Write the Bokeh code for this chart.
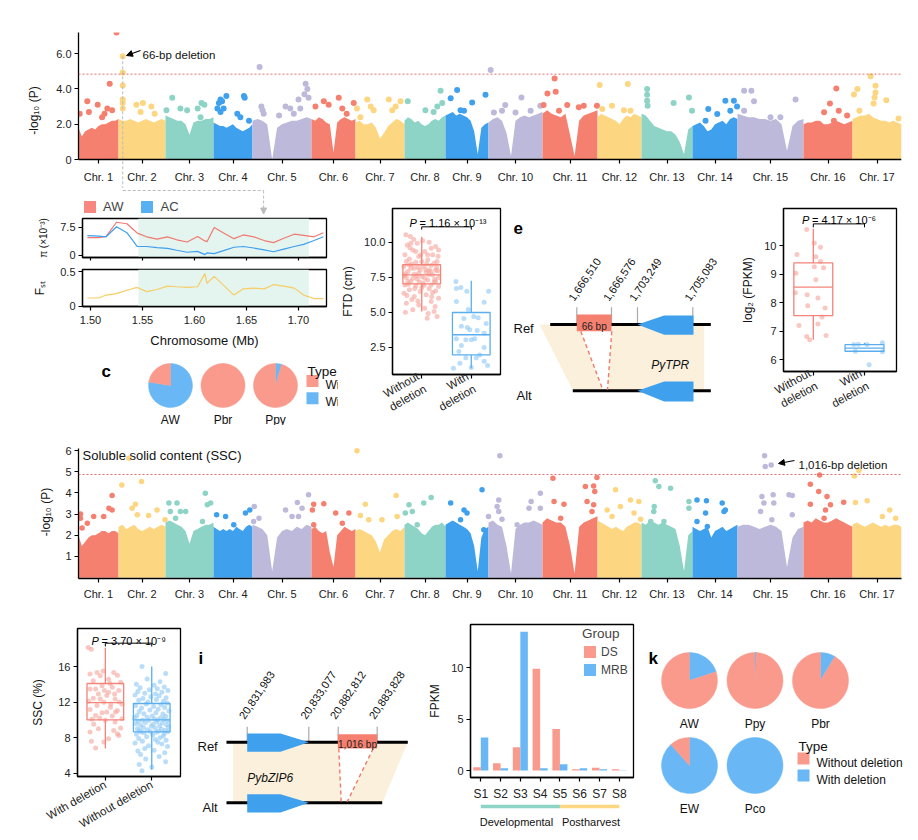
import numpy as np
from math import pi, sin, cos
from bokeh.plotting import figure
from bokeh.layouts import row, column
from bokeh.models import (Range1d, FixedTicker, Label, Arrow, NormalHead, Span,
                          Legend, LegendItem, BoxAnnotation, ColumnDataSource)
from bokeh.embed import file_html
from bokeh.resources import INLINE
from bokeh.transform import dodge

FONT = "Liberation Sans"
RED, YEL, TEAL, BLUE, LAV = "#F5806F", "#FDD681", "#8DD3C6", "#3FA1EE", "#BDB9DA"
PINK_PIE, BLUE_PIE = "#F99A8C", "#69B8F5"
BOX_RED, BOX_BLUE = "#F4837A", "#5AAEEF"
PT_RED, PT_BLUE = "#F7A49A", "#8CC8F5"
BEIGE = "#FBF0DB"

# ---------------- Manhattan data (a, g) ----------------
chr_names = ["Chr. %d" % i for i in range(1, 18)]
chr_len = [24.0, 28.2, 28.8, 23.4, 35.4, 26.4, 29.4, 24.6, 25.8, 32.4, 33.0,
           26.4, 30.6, 27.0, 39.6, 29.4, 29.4]
chr_colors = [RED, YEL, TEAL, BLUE, LAV] * 3 + [RED, YEL]
env_frac = [i / 12 for i in range(13)]
a_env = [
    [1.8, 1.3, 1.6, 1.7, 1.8, 1.7, 1.9, 2.0, 2.0, 2.1, 2.2, 2.2, 2.3],
    [2.3, 2.2, 2.2, 2.3, 2.2, 2.1, 2.2, 2.3, 2.2, 2.1, 2.2, 2.3, 2.2],
    [2.5, 2.4, 2.3, 2.2, 2.2, 2.0, 1.4, 2.1, 2.2, 2.2, 2.3, 2.3, 2.4],
    [2.1, 2.0, 1.9, 1.9, 1.8, 1.9, 2.0, 1.8, 1.7, 1.6, 1.7, 1.8, 2.0],
    [2.2, 2.3, 2.2, 2.0, 0.0, 1.8, 2.0, 2.1, 2.2, 2.2, 2.3, 2.4, 2.3],
    [2.3, 2.2, 2.4, 2.3, 2.1, 2.0, 0.4, 2.1, 2.3, 2.4, 2.3, 2.2, 2.3],
    [2.1, 2.2, 2.0, 2.0, 2.1, 1.8, 1.2, 1.5, 1.9, 2.1, 2.3, 2.2, 2.0],
    [2.2, 2.4, 2.3, 2.1, 2.2, 2.0, 1.9, 2.0, 2.2, 2.3, 2.2, 2.4, 2.5],
    [2.5, 2.6, 2.7, 2.5, 2.6, 2.5, 2.4, 2.2, 1.6, 0.3, 1.8, 2.0, 2.1],
    [2.1, 2.3, 2.4, 2.2, 1.5, 0.2, 2.2, 2.4, 2.5, 2.4, 2.5, 2.6, 2.7],
    [2.6, 2.8, 2.6, 2.5, 2.4, 2.6, 1.4, 0.2, 2.2, 2.5, 2.6, 2.7, 2.8],
    [2.4, 2.6, 2.5, 2.4, 2.3, 2.2, 2.0, 2.3, 2.5, 2.4, 2.6, 2.5, 2.4],
    [2.6, 2.5, 2.2, 1.9, 1.8, 1.7, 1.6, 1.6, 1.4, 1.0, 0.3, 1.7, 1.9],
    [1.9, 2.0, 2.1, 1.9, 1.6, 1.7, 2.0, 2.1, 2.2, 2.0, 2.3, 2.4, 2.3],
    [2.6, 2.5, 2.4, 2.4, 2.3, 2.3, 2.2, 2.3, 2.0, 0.5, 1.9, 2.2, 2.3],
    [2.0, 2.1, 2.1, 2.2, 2.2, 2.0, 2.0, 2.1, 2.2, 2.1, 2.0, 2.1, 2.2],
    [2.3, 2.4, 2.5, 2.5, 2.6, 2.4, 2.3, 2.2, 2.2, 2.1, 2.2, 2.1, 2.0],
]
g_env = [
    [2.0, 1.5, 1.7, 1.9, 2.0, 2.0, 2.1, 2.2, 2.2, 2.1, 2.2, 2.2, 2.1],
    [2.4, 2.5, 2.3, 2.4, 2.5, 2.3, 2.2, 2.3, 2.4, 2.3, 2.4, 2.5, 2.4],
    [2.6, 2.7, 2.6, 2.5, 2.4, 2.2, 1.6, 2.2, 2.3, 2.4, 2.5, 2.5, 2.6],
    [2.4, 2.3, 2.2, 2.3, 2.2, 2.3, 2.2, 2.4, 2.3, 2.2, 2.4, 2.5, 2.4],
    [2.5, 2.4, 2.3, 2.0, 0.3, 1.9, 2.2, 2.3, 2.2, 2.4, 2.3, 2.5, 2.4],
    [2.3, 2.4, 2.2, 2.1, 2.2, 1.2, 0.5, 2.0, 2.2, 2.4, 2.3, 2.2, 2.3],
    [2.2, 2.3, 2.2, 2.1, 2.0, 1.7, 1.2, 1.8, 2.0, 2.2, 2.3, 2.2, 2.4],
    [2.5, 2.6, 2.5, 2.4, 2.3, 2.1, 2.0, 2.2, 2.4, 2.5, 2.5, 2.6, 2.4],
    [2.5, 2.6, 2.7, 2.6, 2.5, 2.4, 2.3, 2.1, 1.5, 0.3, 1.9, 2.3, 2.4],
    [2.6, 2.7, 2.5, 2.4, 1.5, 0.2, 2.3, 2.5, 2.6, 2.6, 2.7, 2.6, 2.5],
    [2.6, 2.8, 2.7, 2.6, 2.6, 2.4, 1.5, 0.2, 2.4, 2.6, 2.7, 2.8, 2.9],
    [2.7, 2.6, 2.5, 2.4, 2.3, 2.4, 2.3, 2.2, 2.4, 2.5, 2.6, 2.6, 2.5],
    [2.6, 2.5, 2.7, 2.6, 2.5, 2.6, 2.5, 2.4, 2.3, 1.5, 0.3, 2.0, 2.2],
    [2.4, 2.3, 2.2, 2.3, 2.4, 1.9, 2.2, 2.3, 2.4, 2.2, 2.3, 2.4, 2.5],
    [2.4, 2.5, 2.5, 2.4, 2.3, 2.4, 2.5, 2.4, 2.2, 0.5, 1.9, 2.3, 2.4],
    [2.6, 2.7, 2.6, 2.8, 2.7, 2.6, 2.6, 2.7, 2.8, 2.7, 2.6, 2.5, 2.4],
    [2.5, 2.6, 2.5, 2.4, 2.5, 2.6, 2.5, 2.4, 2.5, 2.4, 2.5, 2.5, 2.4],
]
# (chromosome, relative position, -log10 P)
a_hits = [
    (1,.03,2.6),(1,.22,3.3),(1,.26,2.7),(1,.48,3.1),(1,.59,2.4),(1,.65,2.6),(1,.72,2.9),(1,.78,4.3),(1,.84,2.8),(1,.95,7.2),
    (2,.09,5.85),(2,.09,4.93),(2,.09,4.2),(2,.09,3.4),(2,.09,3.2),(2,.09,2.9),(2,.38,3.1),(2,.47,2.7),(2,.52,3.2),(2,.70,3.0),(2,.77,2.6),
    (3,.02,2.8),(3,.14,3.5),(3,.31,2.9),(3,.45,2.8),(3,.67,2.9),(3,.73,2.4),(3,.75,3.2),(3,.81,3.1),
    (4,.10,2.9),(4,.14,3.2),(4,.18,3.4),(4,.18,2.7),(4,.22,3.3),(4,.26,2.9),(4,.33,3.6),(4,.61,2.6),(4,.69,2.4),(4,.78,3.6),(4,.80,3.5),(4,.91,2.2),
    (5,.12,5.25),(5,.15,3.0),(5,.17,2.8),(5,.19,2.6),(5,.45,2.5),(5,.56,3.0),(5,.64,2.9),(5,.70,2.6),(5,.78,3.4),(5,.81,2.9),(5,.88,3.7),(5,.90,4.3),(5,.93,4.0),(5,.95,3.5),
    (6,.09,3.0),(6,.28,3.3),(6,.39,3.1),(6,.62,3.5),(6,.70,2.9),(6,.80,2.6),(6,.96,3.2),
    (7,.03,2.9),(7,.10,2.4),(7,.24,3.4),(7,.31,3.0),(7,.37,2.8),(7,.68,3.4),(7,.75,2.8),(7,.82,3.0),(7,.92,3.3),
    (8,.08,3.3),(8,.51,2.8),(8,.71,2.7),(8,.80,3.0),(8,.88,3.9),(8,.92,3.2),
    (9,.12,3.47),(9,.27,3.94),(9,.35,2.8),(9,.43,2.76),(9,.62,3.24),(9,.93,3.67),
    (10,.04,5.08),(10,.10,2.67),(10,.25,2.77),(10,.31,3.09),(10,.5,2.67),(10,.61,3.52),(10,.78,2.77),(10,.96,3.05),
    (11,.02,3.09),(11,.09,3.75),(11,.22,4.6),(11,.24,3.84),(11,.30,2.77),(11,.45,3.09),(11,.66,2.96),(11,.75,3.05),(11,.99,3.05),
    (12,.05,4.22),(12,.11,2.86),(12,.33,3.05),(12,.60,2.8),(12,.69,4.28),(12,.75,2.77),
    (13,.11,4.0),(13,.11,3.67),(13,.11,3.33),(13,.12,3.05),(13,.63,3.2),(13,.93,3.52),(13,.99,2.77),
    (14,.29,2.2),(14,.35,2.86),(14,.55,2.58),(14,.73,3.33),(14,.84,2.77),(14,.92,3.33),(14,.99,3.0),
    (15,.10,3.9),(15,.10,2.77),(15,.21,3.9),(15,.25,3.3),(15,.5,2.4),(15,.65,2.4),(15,.88,3.41),
    (16,.42,2.68),(16,.54,3.18),(16,.62,2.2),(16,.67,4.03),(16,.72,2.77),(16,.89,2.5),
    (17,.03,3.68),(17,.10,4.0),(17,.14,2.77),(17,.37,4.72),(17,.43,3.18),(17,.45,3.52),(17,.47,4.18),(17,.47,3.8),(17,.69,3.36),(17,.94,2.33),
]
g_hits = [
    (1,.05,3.0),(1,.05,2.8),(1,.09,2.34),(1,.22,2.57),(1,.38,2.89),(1,.63,2.89),(1,.76,3.28),(1,.84,3.88),(1,.84,3.2),
    (2,.07,4.38),(2,.22,5.64),(2,.29,3.28),(2,.36,3.47),(2,.40,2.97),(2,.49,4.54),(2,.64,2.93),(2,.82,3.2),(2,.99,2.73),
    (3,.07,3.52),(3,.10,3.12),(3,.21,2.81),(3,.24,3.52),(3,.31,3.12),(3,.42,3.12),(3,.77,2.65),(3,.83,3.99),(3,.87,3.44),(3,.94,3.52),
    (4,.08,2.97),(4,.31,2.89),(4,.52,2.5),(4,.82,3.05),(4,.93,3.2),
    (5,.02,2.65),(5,.03,3.36),(5,.11,2.81),(5,.56,3.2),(5,.67,2.89),(5,.76,3.55),(5,.78,2.89),(5,.84,3.28),(5,.95,3.91),
    (6,.02,3.2),(6,.05,3.47),(6,.05,2.5),(6,.28,3.49),(6,.55,3.05),(6,.70,2.57),(6,.85,3.05),
    (7,.03,5.99),(7,.10,2.93),(7,.20,3.47),(7,.27,2.73),(7,.54,2.73),(7,.83,3.88),(7,.85,2.89),
    (8,.02,3.05),(8,.11,3.44),(8,.19,3.12),(8,.31,2.5),(8,.47,3.52),(8,.65,3.78),
    (9,.12,3.52),(9,.35,2.73),(9,.43,3.2),(9,.50,3.05),(9,.85,4.15),(9,.89,2.26),
    (10,.0,2.89),(10,.16,3.36),(10,.19,3.67),(10,.19,3.12),(10,.21,5.76),(10,.25,2.76),(10,.53,2.5),(10,.75,3.28),(10,.79,3.6),(10,.96,3.99),(10,.96,3.28),
    (11,.19,4.69),(11,.21,3.6),(11,.33,2.81),(11,.39,3.47),(11,.78,4.3),(11,.81,3.6),(11,.90,3.12),(11,.93,4.33),(11,.93,3.44),(11,.95,4.07),(11,.99,4.73),
    (12,.22,3.2),(12,.33,2.89),(12,.41,4.15),(12,.52,3.36),(12,.75,3.67),(12,.83,3.05),(12,.94,3.6),(12,.98,2.76),
    (13,.18,2.65),(13,.24,3.12),(13,.25,3.36),(13,.27,4.58),(13,.34,4.3),(13,.44,2.65),(13,.57,4.22),(13,.93,3.6),(13,.93,3.28),
    (14,.10,3.67),(14,.10,2.65),(14,.29,3.05),(14,.31,3.63),(14,.33,2.42),(14,.66,3.52),(14,.70,3.12),(14,.73,3.2),
    (15,.35,3.12),(15,.37,3.83),(15,.40,3.52),(15,.41,5.76),(15,.42,5.25),(15,.51,5.32),(15,.52,2.73),(15,.54,3.91),(15,.55,3.52),(15,.78,3.91),(15,.83,3.88),(15,.83,2.97),
    (16,.14,4.41),(16,.14,3.47),(16,.31,4.07),(16,.33,4.85),(16,.42,2.81),(16,.45,3.2),(16,.48,3.83),(16,.55,3.44),(16,.82,3.56),
    (17,.04,4.8),(17,.06,3.55),(17,.13,5.06),(17,.30,3.63),(17,.61,2.89),(17,.76,3.2),(17,.88,2.81),
]
a_threshold = 4.84
g_threshold = 4.87

# ---------------- b: diversity / Fst ----------------
b_pos = [1.497, 1.508, 1.515, 1.525, 1.535, 1.545, 1.554, 1.564, 1.574, 1.583, 1.593, 1.603, 1.610,
         1.612, 1.619, 1.628, 1.638, 1.647, 1.657, 1.667, 1.676, 1.686, 1.696, 1.705, 1.715, 1.724]
b_pi_aw = [4.78, 4.78, 5.1, 8.9, 8.5, 6.0, 5.0, 4.4, 5.0, 4.2, 3.6, 5.1, 3.9,
           3.7, 7.5, 6.0, 4.5, 5.5, 5.0, 4.0, 3.45, 4.6, 5.7, 5.4, 5.0, 6.1]
b_pi_ac = [5.3, 5.2, 5.0, 7.7, 6.1, 2.4, 2.4, 2.1, 1.9, 1.4, 0.86, 1.1, 0.24,
           0.7, 0.5, 1.3, 2.2, 2.4, 2.0, 1.5, 1.0, 1.7, 2.4, 2.98, 4.0, 5.0]
b_fst = [0.118, 0.118, 0.16, 0.18, 0.23, 0.27, 0.21, 0.24, 0.29, 0.28, 0.27, 0.28, 0.47,
         0.33, 0.43, 0.30, 0.16, 0.25, 0.26, 0.25, 0.31, 0.29, 0.26, 0.16, 0.11, 0.11]
b_region = (1.546, 1.710)
deletion_mb = 1.6665

# ---------------- c, k: pies ----------------
type_labels = ["Without deletion", "With deletion"]
c_pops = ["AW", "Pbr", "Ppy"]
c_with = [0.775, 0.0, 0.045]
k_pops = ["AW", "Ppy", "Pbr", "EW", "Pco"]
k_with = [0.20, 0.01, 0.086, 0.884, 1.0]
k_grid = [(0, 0), (1, 0), (2, 0), (0, 1), (1, 1)]

# ---------------- d, f, h: box plots (q1, median, q3, lower whisker, upper whisker) ----------------
d_groups = ["Without\ndeletion", "With\ndeletion"]
d_stats = [(7.03, 7.67, 8.39, 5.05, 10.4), (1.95, 3.39, 4.98, 1.0, 7.24)]
d_red = [(-0.32,10.53),(-0.23,10.41),(-0.09,9.93),(0.15,10.0),(0.28,9.69),(0.34,9.45),(-0.29,9.81),(-0.18,9.45),
         (0.06,9.33),(0.22,9.1),(-0.34,9.1),(-0.06,8.98),(-0.25,8.81),(0.12,8.74),(0.31,8.62),(-0.12,8.57),
         (-0.36,8.26),(0.03,8.26),(0.19,8.33),(-0.22,8.14),(-0.03,8.02),(0.28,8.02),(-0.28,7.9),(0.09,7.86),
         (-0.15,7.71),(0.22,7.67),(0.0,7.55),(-0.31,7.48),(0.34,7.48),(-0.09,7.38),(0.12,7.31),(-0.22,7.19),
         (0.25,7.14),(0.03,7.07),(-0.34,6.95),(-0.12,6.9),(0.34,6.83),(0.15,6.67),(-0.25,6.6),(-0.03,6.48),
         (0.28,6.52),(-0.36,6.36),(0.09,6.24),(-0.15,6.12),(0.34,6.0),(0.19,5.76),(-0.31,5.64),(-0.06,5.52),
         (0.06,5.29),(-0.18,5.17),(0.25,5.05),(0.31,4.69),(0.11,4.57),(-0.25,8.38),(-0.07,8.19),(0.15,8.02),
         (-0.18,7.43),(0.06,7.43),(0.28,7.19),(-0.06,7.79),(-0.28,7.19),(0.19,6.95),(0.0,6.76),(-0.15,8.14),
         (0.25,8.5),(-0.31,8.62),(0.0,8.62),(0.12,9.1),(-0.12,9.33),(-0.22,9.93),(0.19,9.57),(-0.33,7.75),
         (0.32,7.95),(-0.05,7.15),(0.18,7.9),(-0.2,8.45),(0.08,8.05),(-0.1,7.6),(0.26,7.35),(-0.27,7.0),
         (0.14,7.7),(-0.35,7.6),(0.3,8.2),(-0.14,6.7),(0.05,6.95),(0.22,6.4),(-0.3,6.2),(0.1,8.45),
         (-0.02,9.1),(0.33,9.0),(-0.24,9.6),(0.02,10.1),(-0.16,10.2),(0.2,6.1),(-0.08,5.8),(0.27,5.4),
         (-0.33,5.0),(0.13,4.9),(-0.2,5.9)]
d_blue = [(-0.31,7.19),(-0.21,6.76),(-0.09,6.5),(0.35,6.5),(0.26,5.72),(-0.30,5.76),(-0.06,5.2),(0.05,4.7),
          (-0.15,4.55),(0.14,4.6),(-0.03,3.74),(-0.08,3.9),(0.12,3.7),(0.0,3.03),(0.07,3.1),(-0.2,2.62),
          (0.26,2.48),(0.17,1.95),(-0.11,1.74),(-0.23,1.36),(0.26,1.5),(0.33,1.2),(-0.36,1.0),(0.0,1.05),
          (-0.30,6.7),(-0.11,3.03),(-0.3,3.1),(0.26,3.5),(-0.2,4.0),(0.1,1.74),(0.3,4.2),(-0.25,2.2)]
d_p = "= 1.16 × 10⁻¹³"

f_groups = ["Without\ndeletion", "With\ndeletion"]
f_stats = [(7.55, 8.55, 9.40, 6.7, 10.6), (6.3, 6.41, 6.53, 6.28, 6.6)]
f_red = [(-0.13,10.57),(0.02,10.1),(0.14,9.95),(-0.32,9.7),(0.05,9.62),(0.14,9.45),(-0.34,9.04),(0.02,9.27),
         (0.20,9.23),(0.05,8.81),(-0.12,8.28),(0.09,8.17),(-0.35,8.35),(-0.11,7.9),(0.23,7.82),(0.17,7.5),
         (0.09,7.26),(-0.28,7.2),(-0.13,6.82),(-0.07,6.7),(0.25,6.85)]
f_blue = [(-0.21,6.54),(-0.12,6.55),(0.05,6.54),(0.35,6.6),(0.35,6.28),(-0.18,6.3),(0.09,5.83)]
f_p = "= 4.17 × 10⁻⁶"

h_groups = ["With deletion", "Without deletion"]
h_stats = [(10.0, 11.95, 14.09, 6.8, 18.1), (8.66, 10.0, 11.84, 4.4, 16.0)]
h_red = [(-0.37,18.13),(-0.3,17.94),(-0.18,15.33),(-0.33,15.15),(-0.11,14.96),(0.18,15.33),(0.26,15.03),
         (0.07,14.58),(-0.26,14.4),(0.33,14.22),(-0.07,13.85),(0.15,13.66),(-0.33,13.48),(0.29,13.29),
         (-0.15,12.92),(0.03,12.73),(-0.26,12.43),(0.21,12.36),(-0.03,11.99),(0.36,11.8),(-0.18,11.62),
         (0.11,11.43),(-0.33,11.17),(0.26,11.06),(-0.07,10.8),(-0.21,10.5),(0.15,10.43),(0.36,10.13),
         (-0.29,10.06),(0.0,9.95),(0.21,9.76),(-0.15,9.01),(0.18,8.82),(0.29,8.26),(-0.33,8.64),(0.07,7.89),
         (-0.21,6.85),(-0.03,7.52),(0.26,8.45),(0.03,10.88),(-0.11,12.36),(0.07,13.1),(-0.21,13.48),
         (0.3,12.0),(-0.36,12.1),(0.1,14.1),(-0.05,15.5),(0.22,10.9),(-0.25,9.5),(0.12,11.8),(-0.12,10.2),
         (0.33,9.1),(-0.3,7.6),(0.2,12.9),(-0.02,13.3)]
h_blue_val = [16.0, 15.2, 14.6, 14.3, 14.0, 13.9, 13.7, 13.6, 13.5, 13.4, 13.3, 13.2, 13.1, 13.0, 12.9,
              12.8, 12.7, 12.6, 12.5, 12.4, 12.3, 12.2, 12.1, 12.0, 11.9,
              11.8, 11.7, 11.6, 11.5, 11.4, 11.35, 11.2, 11.1, 11.0, 10.95, 10.8, 10.7, 10.65, 10.5, 10.45,
              10.4, 10.3, 10.25, 10.2, 10.1, 10.05, 10.0, 10.0, 9.95, 9.9,
              9.85, 9.8, 9.7, 9.65, 9.6, 9.5, 9.45, 9.4, 9.35, 9.3, 9.2, 9.15, 9.1, 9.0, 8.95,
              8.9, 8.85, 8.8, 8.75, 8.7, 8.7, 8.65, 8.6, 8.55, 8.5,
              8.4, 8.3, 8.2, 8.1, 8.0, 7.9, 7.8, 7.7, 7.6, 7.5, 7.4, 7.3, 7.1, 7.0, 6.8,
              6.6, 6.5, 6.3, 6.1, 5.9, 5.6, 5.3, 5.0, 4.7, 4.3]
h_blue_off = [-0.21, 0.3, -0.1, 0.18, -0.33, 0.05, 0.27, -0.25, 0.12, -0.05, 0.35, -0.3, 0.22, -0.15, 0.08,
              -0.36, 0.16, -0.02, 0.31, -0.19, 0.1, -0.28, 0.25, -0.08, 0.33,
              -0.12, 0.2, -0.35, 0.04, 0.28, -0.22, 0.14, -0.04, 0.37, -0.27, 0.09, -0.17, 0.24, -0.32, 0.01,
              0.3, -0.1, 0.19, -0.37, 0.06, 0.26, -0.2, 0.13, -0.06, 0.34,
              -0.29, 0.11, -0.14, 0.23, -0.34, 0.03, 0.32, -0.24, 0.17, -0.01, 0.36, -0.18, 0.07, -0.31, 0.21,
              -0.09, 0.29, -0.26, 0.15, -0.03, 0.35, -0.23, 0.1, -0.16, 0.27,
              -0.33, 0.02, 0.25, -0.11, 0.18, -0.28, 0.08, 0.31, -0.2, 0.13, -0.36, 0.22, -0.07, 0.34, -0.15,
              0.05, -0.3, 0.28, -0.24, 0.16, -0.13, 0.3, -0.27, 0.0, -0.21]
h_p = "= 3.70 × 10⁻⁹"

# ---------------- j: expression ----------------
j_stages = ["S1", "S2", "S3", "S4", "S5", "S6", "S7", "S8"]
j_ds = [0.32, 0.71, 2.26, 9.9, 4.03, 0.13, 0.26, 0.13]
j_mrb = [3.22, 0.23, 13.5, 0.23, 0.61, 0.23, 0.13, 0.03]
j_phase = ["Developmental", "Postharvest"]
j_phase_start = [1, 5]
j_phase_end = [5, 8]

# ---------------- e, i: schematic gene models ----------------
e_tick_lab = ["1,666,510", "1,666,576", "1,703,249", "1,705,083"]
i_tick_lab = ["20,831,983", "20,833,077", "20,882,812", "20,883,828"]


# ================= helpers =================
def base_fig(fw, fh, bl, br, bt, bb, xr, yr, axes=True, outline=None):
    p = figure(frame_width=fw, frame_height=fh, min_border_left=bl, min_border_right=br,
               min_border_top=bt, min_border_bottom=bb, x_range=xr, y_range=yr, title=None,
               output_backend="svg", toolbar_location=None, tools="")
    p.grid.visible = False
    p.outline_line_color = outline
    p.outline_line_width = 1.3
    p.border_fill_color = "white"
    if not axes:
        for ax in p.axis:
            ax.visible = False
        return p
    for ax in p.axis:
        ax.axis_line_width = 1.3
        ax.axis_line_color = "black"
        ax.major_tick_line_color = "black"
        ax.major_tick_line_width = 1.2
        ax.major_tick_out = 4
        ax.major_tick_in = 0
        ax.minor_tick_line_color = None
        ax.major_label_text_font = FONT
        ax.major_label_text_font_size = "11px"
        ax.major_label_text_color = "#222222"
        ax.axis_label_text_font = FONT
        ax.axis_label_text_font_size = "12px"
        ax.axis_label_text_font_style = "normal"
        ax.axis_label_text_color = "#111111"
        ax.major_label_standoff = 3
    return p


def mapper(fx0, fy0, fw, fh, xr, yr):
    """page-pixel -> data coordinates for a frame"""
    def f(rx, ry):
        return (xr[0] + (rx - fx0) / fw * (xr[1] - xr[0]),
                yr[1] - (ry - fy0) / fh * (yr[1] - yr[0]))
    return f


# approximate advance widths (em) used to centre left-anchored labels
CW = {"A": .667, "W": .944, "P": .667, "b": .556, "r": .333, "p": .556, "y": .5, "E": .667,
      "c": .5, "o": .556, " ": .278, ",": .278, "T": .611, "R": .722}


def text_w(s, size):
    return sum(CW.get(ch, .556) for ch in s) * size


def lab(p, x, y, t, size=12, style="normal", xo=0, yo=0, angle=0.0, color="#111111"):
    """left / alphabetic anchored label"""
    p.add_layout(Label(x=x, y=y, text=t, text_font=FONT, text_font_size="%gpx" % size,
                       text_font_style=style, text_align="left", text_baseline="alphabetic",
                       text_color=color, x_offset=xo, y_offset=yo, angle=angle))


def lab_mid(p, x, y, t, size=12, style="normal", center=False, angle=0.0, color="#111111"):
    """label whose vertical middle sits at y (optionally centred on x)"""
    d = 0.35 * size
    if angle:
        x, y = x + d * sin(angle), y - d * cos(angle)
    else:
        y = y - d
    if center:
        x = x - text_w(t, size) / 2
    lab(p, x, y, t, size=size, style=style, angle=angle, color=color)


def letter(p, m, rx, ry, t):
    x, y = m(rx, ry)
    lab(p, x, y, t, size=17, style="bold", color="black")


def key_quad(p, color, y_off):
    # legend key source kept outside the visible frame
    return p.quad(left=[0], right=[0.0001], top=[y_off], bottom=[y_off - 1],
                  fill_color=color, line_color=None)


starts = list(np.concatenate([[0.0], np.cumsum(chr_len)[:-1]]))
total = float(sum(chr_len))
mids = [s + l / 2 for s, l in zip(starts, chr_len)]


def manhattan(p, env, hits, size):
    for i in range(17):
        xs = [starts[i] + f * chr_len[i] for f in env_frac]
        p.varea(x=xs, y1=[0] * len(xs), y2=env[i], fill_color=chr_colors[i])
    xs = [starts[c - 1] + f * chr_len[c - 1] for c, f, v in hits]
    ys = [v for c, f, v in hits]
    cs = [chr_colors[c - 1] for c, f, v in hits]
    p.scatter(x=xs, y=ys, size=size, fill_color=cs, line_color=None)


def chr_axis(p):
    p.xaxis.ticker = FixedTicker(ticks=mids)
    p.xaxis.major_label_overrides = {m: n for m, n in zip(mids, chr_names)}


# ================= a =================
A_YR = (-1.64, 7.2)
p_a = base_fig(823, 156, 78, 17, 32, 0, Range1d(0, total), Range1d(*A_YR))
a_map = mapper(78, 32, 823, 156, (0, total), A_YR)
p_a.xaxis.fixed_location = 0
chr_axis(p_a)
p_a.xaxis.major_label_standoff = 7
p_a.yaxis.ticker = FixedTicker(ticks=[0, 2, 4, 6])
p_a.yaxis.major_label_overrides = {0: "0", 2: "2.0", 4: "4.0", 6: "6.0"}
p_a.yaxis.bounds = (0, 7.2)
p_a.yaxis.axis_label = "-log₁₀ (P)"
p_a.yaxis.axis_label_standoff = 12
manhattan(p_a, a_env, a_hits, 6)
peak = a_hits[10]
peak_x = starts[peak[0] - 1] + peak[1] * chr_len[peak[0] - 1]
p_a.line(x=[peak_x, peak_x], y=[peak[2], A_YR[0]], line_color="#BBBBBB", line_dash="3 2", line_width=1)
p_a.add_layout(Span(location=a_threshold, dimension="width", line_color="#E06C6C",
                    line_dash="2 2", line_width=1))
x0, y0 = a_map(142, 54)
lab(p_a, x0, y0, "66-bp deletion", size=11.5)
xs0, ys0 = a_map(140, 50)
xe0, ye0 = a_map(126, 55)
p_a.add_layout(Arrow(end=NormalHead(size=6, fill_color="black", line_color="black"),
                     x_start=xs0, y_start=ys0, x_end=xe0, y_end=ye0, line_width=1.2))
letter(p_a, a_map, 28, 33, "a")

# ================= b =================
B_XR = (1.4923, 1.727)
b_xr = Range1d(*B_XR)
p_bh = base_fig(244, 26, 82, 12, 0, 0, b_xr, Range1d(0, 26), axes=False)
bh_map = mapper(82, 188, 244, 26, B_XR, (0, 26))
r_aw = key_quad(p_bh, "#F8877F", -20)
r_ac = key_quad(p_bh, "#56B0F2", -20)
leg_b = Legend(items=[LegendItem(label="AW", renderers=[r_aw]), LegendItem(label="AC", renderers=[r_ac])],
               orientation="horizontal", location=(0, 0), glyph_width=15, glyph_height=15,
               label_standoff=6, spacing=16, padding=0, margin=0, border_line_color=None,
               background_fill_alpha=0, label_text_font=FONT, label_text_font_size="13px")
p_bh.add_layout(leg_b)
cx_ref = 78 + peak_x / total * 823
cxb, _ = bh_map(cx_ref, 190)
p_bh.line(x=[cxb, deletion_mb], y=[24, 24], line_color="#BBBBBB", line_dash="3 2", line_width=1)
p_bh.add_layout(Arrow(end=NormalHead(size=6, fill_color="#BBBBBB", line_color="#BBBBBB"),
                      x_start=deletion_mb, y_start=24, x_end=deletion_mb, y_end=0.5,
                      line_color="#BBBBBB", line_dash="3 2", line_width=1))
letter(p_bh, bh_map, 27, 205, "b")

p_b1 = base_fig(244, 39, 82, 12, 4, 6, b_xr, Range1d(-0.54, 9.9), outline="black")
p_b1.xaxis.ticker = FixedTicker(ticks=[1.5, 1.55, 1.6, 1.65, 1.7])
p_b1.xaxis.major_label_text_font_size = "1px"
p_b1.xaxis.major_label_text_color = None
p_b1.xaxis.major_label_standoff = 0
p_b1.xaxis.major_tick_out = 3
p_b1.yaxis.ticker = FixedTicker(ticks=[0, 7.5])
p_b1.yaxis.major_label_overrides = {0: "0", 7.5: "7.5"}
p_b1.yaxis.axis_label = "π (×10⁻³)"
p_b1.yaxis.axis_label_text_font_size = "10px"
p_b1.yaxis.axis_label_standoff = 8
p_b1.add_layout(BoxAnnotation(left=b_region[0], right=b_region[1], fill_color="#E4F4EE",
                              fill_alpha=1, line_color=None, level="underlay"))
p_b1.line(x=b_pos, y=b_pi_aw, line_color="#F07A70", line_width=1.2)
p_b1.line(x=b_pos, y=b_pi_ac, line_color="#3F9FEE", line_width=1.2)

p_b2 = base_fig(244, 37, 82, 12, 6, 49, b_xr, Range1d(-0.005, 0.529), outline="black")
p_b2.xaxis.ticker = FixedTicker(ticks=[1.5, 1.55, 1.6, 1.65, 1.7])
p_b2.xaxis.major_label_overrides = {1.5: "1.50", 1.55: "1.55", 1.6: "1.60", 1.65: "1.65", 1.7: "1.70"}
p_b2.xaxis.major_label_standoff = 5
p_b2.xaxis.axis_label = "Chromosome (Mb)"
p_b2.xaxis.axis_label_text_font_size = "13px"
p_b2.xaxis.axis_label_standoff = 6
p_b2.yaxis.ticker = FixedTicker(ticks=[0, 0.5])
p_b2.yaxis.major_label_overrides = {0: "0", 0.5: "0.5"}
p_b2.yaxis.axis_label = "Fₛₜ"
p_b2.yaxis.axis_label_standoff = 10
p_b2.add_layout(BoxAnnotation(left=b_region[0], right=b_region[1], fill_color="#E4F4EE",
                              fill_alpha=1, line_color=None, level="underlay"))
p_b2.line(x=b_pos, y=b_fst, line_color="#F8CC66", line_width=1.2)


# ================= pies (c, k) =================
def pies(p, names, with_frac, cxs, cys, r, label_dy):
    wx, wy, ws, we, ox, oy, os_, oe = [], [], [], [], [], [], [], []
    for n, fwith, cx, cy in zip(names, with_frac, cxs, cys):
        fwc = min(fwith, 0.9999)
        a_mid = pi / 2 - 2 * pi * fwc
        if fwith > 0:
            wx.append(cx); wy.append(cy); ws.append(pi / 2); we.append(a_mid)
        if fwith < 1:
            ox.append(cx); oy.append(cy); os_.append(a_mid)
            oe.append(pi / 2 - 2 * pi * 0.9999 if fwith <= 0 else pi / 2 - 2 * pi)
    p.wedge(x=wx, y=wy, radius=r, radius_units="screen", start_angle=ws, end_angle=we,
            direction="clock", fill_color=BLUE_PIE, line_color=BLUE_PIE, line_width=0.5)
    p.wedge(x=ox, y=oy, radius=r, radius_units="screen", start_angle=os_, end_angle=oe,
            direction="clock", fill_color=PINK_PIE, line_color=PINK_PIE, line_width=0.5)
    for n, cx, cy in zip(names, cxs, cys):
        lab_mid(p, cx, cy - label_dy, n, size=12, center=True)


def type_key(p, x0, title_y, top_y, step):
    """legend for the pies: title, two 12-px keys and their labels"""
    lab(p, x0 + 1, title_y, "Type", size=13.5)
    tops = [top_y - i * step for i in range(len(type_labels))]
    p.quad(left=[x0] * 2, right=[x0 + 12] * 2, top=tops, bottom=[t - 12 for t in tops],
           fill_color=[PINK_PIE, BLUE_PIE], line_color=None)
    for t, txt in zip(tops, type_labels):
        lab_mid(p, x0 + 19, t - 6, txt, size=12)


p_c = base_fig(330, 70, 8, 0, 0, 0, Range1d(0, 330), Range1d(0, 70), axes=False)
c_cx = [88 + 52.5 * i for i in range(len(c_pops))]
c_cy = [40] * len(c_pops)
pies(p_c, c_pops, c_with, c_cx, c_cy, 22, 30)
type_key(p_c, 224, 54.5, 50.5, 17.2)
lab(p_c, 19, 54, "c", size=17, style="bold", color="black")

p_k = base_fig(268, 232, 0, 0, 0, 0, Range1d(0, 268), Range1d(0, 232), axes=False)
k_cx = [46 + 65.5 * gx for gx, gy in k_grid]
k_cy = [180 - 85 * gy for gx, gy in k_grid]
pies(p_k, k_pops, k_with, k_cx, k_cy, 28, 39.5)
type_key(p_k, 154, 114, 108, 17)
lab(p_k, 5, 202, "k", size=17, style="bold", color="black")


# ================= box plots (d, f, h) =================
def boxplot(p, stats, pts_list, width):
    cols = [(BOX_RED, PT_RED), (BOX_BLUE, PT_BLUE)]
    for k, (st, pts) in enumerate(zip(stats, pts_list)):
        xc = k + 1
        lc, pc = cols[k]
        p.scatter(x=[xc + o for o, v in pts], y=[v for o, v in pts], size=5,
                  fill_color=pc, fill_alpha=0.6, line_color=None)
        q1, med, q3, lo, hi = st
        p.segment(x0=[xc, xc], y0=[q3, q1], x1=[xc, xc], y1=[hi, lo], line_color=lc, line_width=1.3)
        p.quad(left=[xc - width / 2], right=[xc + width / 2], bottom=[q1], top=[q3],
               fill_color=None, line_color=lc, line_width=1.3)
        p.segment(x0=[xc - width / 2], y0=[med], x1=[xc + width / 2], y1=[med], line_color=lc, line_width=1.3)


def pval(p, text, ytext, ytop, ybot):
    p.line(x=[1, 1, 2, 2], y=[ybot, ytop, ytop, ybot], line_color="black", line_width=1)
    lab(p, 1.5, ytext, "P", size=11, style="italic", xo=-37, color="black")
    lab(p, 1.5, ytext, text, size=11, xo=-27, color="black")


def cat_axis(p, labels, orient):
    p.xaxis.ticker = FixedTicker(ticks=[1, 2])
    p.xaxis.major_label_overrides = {1: labels[0], 2: labels[1]}
    p.xaxis.major_label_orientation = orient
    p.xaxis.major_label_text_font_size = "11.5px"


D_XR, D_YR = (0.41, 2.59), (0.55, 12.41)
p_d = base_fig(108, 166, 51, 8, 19, 52, Range1d(*D_XR), Range1d(*D_YR), outline="black")
d_map = mapper(389, 207, 108, 166, D_XR, D_YR)
cat_axis(p_d, d_groups, 0.52)
p_d.yaxis.ticker = FixedTicker(ticks=[2.5, 5, 7.5, 10])
p_d.yaxis.major_label_overrides = {2.5: "2.5", 5: "5.0", 7.5: "7.5", 10: "10.0"}
p_d.yaxis.axis_label = "FTD (cm)"
p_d.yaxis.axis_label_standoff = 6
boxplot(p_d, d_stats, [d_red, d_blue], 0.76)
pval(p_d, d_p, 11.4, 11.1, 10.9)
letter(p_d, d_map, 340, 207, "d")

F_XR, F_YR = (0.418, 2.625), (5.59, 11.31)
p_f = base_fig(113, 163, 44, 18, 20, 54, Range1d(*F_XR), Range1d(*F_YR), outline="black")
f_map = mapper(779, 208, 113, 163, F_XR, F_YR)
cat_axis(p_f, f_groups, 0.5)
p_f.yaxis.ticker = FixedTicker(ticks=[6, 7, 8, 9, 10])
p_f.yaxis.axis_label = "log₂ (FPKM)"
p_f.yaxis.axis_label_standoff = 6
boxplot(p_f, f_stats, [f_red, f_blue], 0.76)
pval(p_f, f_p, 10.89, 10.77, 10.65)
letter(p_f, f_map, 737, 207, "f")

H_XR, H_YR = (0.4, 2.62), (3.64, 20.27)
p_h = base_fig(103, 148, 77, 10, 26, 58, Range1d(*H_XR), Range1d(*H_YR), outline="black")
h_map = mapper(77, 626, 103, 148, H_XR, H_YR)
cat_axis(p_h, h_groups, 0.52)
p_h.yaxis.ticker = FixedTicker(ticks=[4, 8, 12, 16])
p_h.yaxis.axis_label = "SSC (%)"
p_h.yaxis.axis_label_standoff = 10
boxplot(p_h, h_stats, [h_red, list(zip(h_blue_off, h_blue_val))], 0.79)
pval(p_h, h_p, 18.89, 18.62, 18.25)
letter(p_h, h_map, 28, 630, "h")

# ================= e: PyTPR schematic =================
p_e = base_fig(230, 237, 0, 0, 0, 0, Range1d(0, 230), Range1d(0, 237), axes=False)
e_tick_x = [68.3, 103.0, 129.0, 184.3]
p_e.patch(x=[31, 72.3, 72.3, 94.3, 64.3], y=[121, 121, 114.3, 55, 55], fill_color=BEIGE, line_color=None)
p_e.patch(x=[103.3, 195.7, 195.7, 99, 103.3], y=[121, 121, 55, 55, 114.3], fill_color=BEIGE, line_color=None)
p_e.segment(x0=e_tick_x, y0=[121] * 4, x1=e_tick_x, y1=[138.3] * 4, line_color="#AAAAAA", line_width=1.2)
p_e.segment(x0=[41.7, 64.3], y0=[121, 54.7], x1=[202.3, 202.3], y1=[121, 54.7], line_color="black", line_width=3)
p_e.patch(x=[129, 155.7, 185, 185, 155.7], y=[121, 130, 130, 110.7, 110.7], fill_color=BLUE, line_color=None)
p_e.patch(x=[129, 155.7, 185, 185, 155.7], y=[54.7, 64, 64, 44, 44], fill_color=BLUE, line_color=None)
p_e.quad(left=[68.3], right=[103], bottom=[114.3], top=[131], fill_color=RED, line_color=None)
p_e.segment(x0=[72.3, 103.3], y0=[114.3, 114.3], x1=[94.3, 99], y1=[55.7, 55.7],
            line_color="#F07A6A", line_dash="4 3", line_width=1.4)
lab_mid(p_e, 85.7, 122.5, "66 bp", size=10, center=True, color="#222222")
for tx, tl in zip(e_tick_x, e_tick_lab):
    lab_mid(p_e, tx - 9, 147.8, tl, size=11, angle=0.98)
lab_mid(p_e, 5, 122, "Ref", size=13)
lab_mid(p_e, 8, 55, "Alt", size=13)
lab_mid(p_e, 161.7, 84.3, "PyTPR", size=12, style="italic", center=True)
lab(p_e, 5, 218, "e", size=17, style="bold", color="black")

# ================= i: PybZIP6 schematic =================
p_i = base_fig(235, 232, 0, 0, 0, 0, Range1d(0, 235), Range1d(0, 232), axes=False)
i_tick_x = [56.7, 118.3, 147.7, 186.7]
p_i.patch(x=[42.7, 148.3, 148.3, 150.7, 42.7], y=[118.3, 118.3, 112, 57.7, 57.7], fill_color=BEIGE, line_color=None)
p_i.patch(x=[182.7, 217.3, 191.7, 156.7, 182.7], y=[118.3, 118.3, 57.7, 57.7, 112], fill_color=BEIGE, line_color=None)
p_i.segment(x0=i_tick_x, y0=[118.3] * 4, x1=i_tick_x, y1=[133.7] * 4, line_color="#AAAAAA", line_width=1.2)
p_i.segment(x0=[36, 36], y0=[118.3, 57.7], x1=[217.3, 191.7], y1=[118.3, 57.7], line_color="black", line_width=3)
p_i.patch(x=[56.7, 90, 118.3, 90, 56.7], y=[127, 127, 118.3, 108.7, 108.7], fill_color=BLUE, line_color=None)
p_i.patch(x=[56.7, 90, 118.3, 90, 56.7], y=[66.3, 66.3, 57.7, 48, 48], fill_color=BLUE, line_color=None)
p_i.quad(left=[147.3], right=[186.7], bottom=[112], top=[126.3], fill_color=RED, line_color=None)
p_i.segment(x0=[148.3, 182.7], y0=[112, 112], x1=[150.7, 156.7], y1=[58.7, 58.7],
            line_color="#F07A6A", line_dash="4 3", line_width=1.4)
lab_mid(p_i, 167, 119.2, "1,016 bp", size=10, center=True, color="#222222")
for tx, tl in zip(i_tick_x, i_tick_lab):
    lab_mid(p_i, tx - 9, 144.8, tl, size=11, angle=0.98)
lab_mid(p_i, 7, 119, "Ref", size=13)
lab_mid(p_i, 12, 57.7, "Alt", size=13)
lab_mid(p_i, 56.7, 87, "PybZIP6", size=12, style="italic")
lab(p_i, 8, 202, "i", size=17, style="bold", color="black")

# ================= j =================
J_XR, J_YR = (0.48, 8.72), (-0.68, 14.2)
j_xr = Range1d(*J_XR)
p_j = base_fig(163, 153, 44, 10, 22, 22, j_xr, Range1d(*J_YR), outline="black")
j_map = mapper(469, 622, 163, 153, J_XR, J_YR)
j_src = ColumnDataSource(dict(x=list(range(1, 9)), ds=j_ds, mrb=j_mrb))
r_ds = p_j.vbar(x=dodge("x", -0.19), top="ds", bottom=0, width=0.38, source=j_src,
                fill_color=PINK_PIE, line_color=None)
r_mrb = p_j.vbar(x=dodge("x", 0.19), top="mrb", bottom=0, width=0.38, source=j_src,
                 fill_color=BLUE_PIE, line_color=None)
p_j.xaxis.ticker = FixedTicker(ticks=list(range(1, 9)))
p_j.xaxis.major_label_overrides = {i + 1: s for i, s in enumerate(j_stages)}
p_j.xaxis.major_label_text_font_size = "12px"
p_j.xaxis.major_label_standoff = 5
p_j.yaxis.ticker = FixedTicker(ticks=[0, 5, 10])
p_j.yaxis.axis_label = "FPKM"
p_j.yaxis.axis_label_standoff = 6
leg_j = Legend(items=[LegendItem(label="DS", renderers=[r_ds]), LegendItem(label="MRB", renderers=[r_mrb])],
               title="Group", location=(112, 100), glyph_width=15, glyph_height=15, label_height=15,
               label_standoff=4, spacing=3, padding=0, margin=0, border_line_color=None,
               background_fill_alpha=0, label_text_font=FONT, label_text_font_size="12px",
               title_text_font=FONT, title_text_font_size="13.5px", title_text_font_style="normal",
               title_standoff=3)
p_j.add_layout(leg_j)
letter(p_j, j_map, 428, 630, "j")

p_js = base_fig(163, 35, 44, 10, 0, 0, j_xr, Range1d(0, 35), axes=False)
p_js.segment(x0=j_phase_start, y0=[32, 32], x1=j_phase_end, y1=[32, 32],
             line_color=[TEAL, YEL], line_width=3.5)
for xs_, ph, xo in zip(j_phase_start, j_phase, [-1, 2]):
    p_js.add_layout(Label(x=xs_, y=20 - 0.35 * 11, text=ph, text_font=FONT, text_font_size="11px",
                          text_align="left", text_baseline="alphabetic", text_color="#111111",
                          x_offset=xo))

# ================= g =================
G_YR = (-0.04, 6.24)
p_g = base_fig(823, 133, 78, 17, 19, 23, Range1d(0, total), Range1d(*G_YR))
g_map = mapper(78, 444, 823, 133, (0, total), G_YR)
chr_axis(p_g)
p_g.xaxis.major_label_standoff = 5
p_g.yaxis.ticker = FixedTicker(ticks=[1, 2, 3, 4, 5, 6])
p_g.yaxis.bounds = (-0.04, 6.1)
p_g.yaxis.axis_label = "-log₁₀ (P)"
p_g.yaxis.axis_label_standoff = 9
manhattan(p_g, g_env, g_hits, 5.5)
p_g.add_layout(Span(location=g_threshold, dimension="width", line_color="#E06C6C",
                    line_dash="2 2", line_width=1))
x0, y0 = g_map(82, 454)
lab(p_g, x0, y0, "Soluble solid content (SSC)", size=13)
x0, y0 = g_map(798, 463)
lab(p_g, x0, y0, "1,016-bp deletion", size=11.5)
xs0, ys0 = g_map(794, 459)
xe0, ye0 = g_map(778, 462)
p_g.add_layout(Arrow(end=NormalHead(size=6, fill_color="black", line_color="black"),
                     x_start=xs0, y_start=ys0, x_end=xe0, y_end=ye0, line_width=1.2))
letter(p_g, g_map, 28, 453, "g")

# ================= layout =================
layout = column(
    p_a,
    row(column(p_bh, p_b1, p_b2, p_c), p_d, p_e, p_f),
    p_g,
    row(p_h, p_i, column(p_j, p_js), p_k),
)
open("out.html", "w").write(file_html(layout, INLINE, "figure"))
